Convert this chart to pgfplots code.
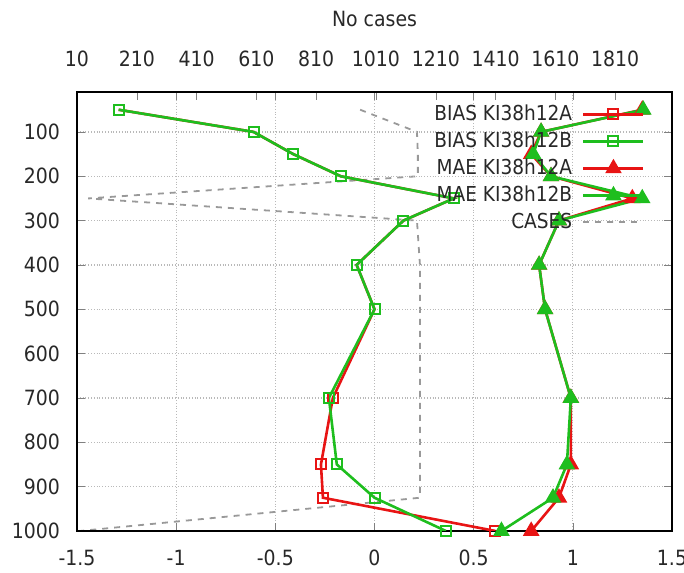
\documentclass[border=0pt]{standalone}
\usepackage{fontspec}
\setmainfont{DejaVu Sans Condensed}
\usepackage{pgfplots}
\usepackage{pgfplotstable}
\pgfplotsset{compat=1.18}
\definecolor{gpred}{RGB}{232,20,20}
\definecolor{gpgreen}{RGB}{30,190,30}
\definecolor{txt}{RGB}{40,40,40}

\pgfplotstableread{
p    biasA  biasB  maeA  maeB   cases
50   -1.29  -1.29  1.35  1.355  957
100  -0.61  -0.61  0.84  0.84   1147
150  -0.41  -0.41  0.79  0.80   1150
200  -0.17  -0.17  0.89  0.89   1150
250   0.40   0.40  1.30  1.35   47
300   0.146  0.146 0.93  0.93   1147
400  -0.09  -0.09  0.83  0.83   1157
500   0.0    0.0   0.86  0.86   1157
700  -0.21  -0.23  0.99  0.99   1157
850  -0.27  -0.19  0.99  0.97   1157
925  -0.26   0.0   0.93  0.90   1157
1000  0.61   0.36  0.79  0.64   20
}\data

\begin{document}
\begin{tikzpicture}
\pgfplotsset{
  every axis/.append style={
    scale only axis, width=297.5pt, height=219.5pt,
    ymin=10, ymax=1000, y dir=reverse,
    tick align=inside, major tick length=4pt,
    scaled ticks=false,
    /pgf/number format/1000 sep={},
    /pgf/number format/assume math mode=true,
    tick label style={font=\fontsize{10.5}{12}\selectfont, text=txt},
  },
}
\begin{axis}[name=top,
  axis x line*=top, axis y line=none,
  xmin=10, xmax=2000,
  xtick={10,210,410,610,810,1010,1210,1410,1610,1810},
  xticklabel style={yshift=9pt},
  x axis line style={gray!70!black, line width=0.6pt},
  xlabel={No cases},
  xlabel style={at={(axis description cs:0.5,1)}, anchor=south, yshift=29pt, font=\fontsize{10.5}{12}\selectfont, text=txt},
]
\addplot[gray!80, dashed, dash pattern=on 3pt off 3pt, line width=0.9pt, forget plot] table[x=cases, y=p]{\data};
\end{axis}
\begin{axis}[name=main,
  xmin=-1.5, xmax=1.5,
  xtick={-1.5,-1,-0.5,0,0.5,1,1.5},
  ytick={100,200,300,400,500,600,700,800,900,1000},
  xtick pos=both, xticklabel pos=lower,
  ytick pos=both, yticklabel pos=left,
  xticklabel style={yshift=-6pt},
  yticklabel style={xshift=-5pt},
  grid=major,
  major grid style={gray!55, densely dotted, line width=0.6pt},
  axis line style={black, line width=0.8pt},
  legend style={at={(rel axis cs:0.965,0.985)}, anchor=north east, draw=none, fill=none,
    font=\fontsize{10.3}{12}\selectfont, text=txt, row sep=2.2pt, column sep=4pt,
    nodes={inner sep=1pt}},
  legend cell align=right,
  legend plot pos=right,
  legend image code/.code={\draw[mark repeat=2,mark phase=2,#1] plot coordinates {(0pt,0pt) (15pt,0pt) (30pt,0pt)};},
]
\addlegendimage{gpred, line width=1.3pt, mark=square, mark size=2.5pt, mark options={solid, line width=1pt}}
\addlegendentry{BIAS KI38h12A}
\addlegendimage{gpgreen, line width=1.3pt, mark=square, mark size=2.5pt, mark options={solid, line width=1pt}}
\addlegendentry{BIAS KI38h12B}
\addlegendimage{gpred, line width=1.3pt, mark=triangle*, mark size=3.5pt, mark options={solid}}
\addlegendentry{MAE KI38h12A}
\addlegendimage{gpgreen, line width=1.3pt, mark=triangle*, mark size=3.5pt, mark options={solid}}
\addlegendentry{MAE KI38h12B}
\addlegendimage{gray!80, dashed, dash pattern=on 3pt off 3pt, line width=0.9pt}
\addlegendentry{CASES}

\addplot[gpred, line width=1.3pt, mark=square, mark size=2.5pt, mark options={solid, line width=1pt}, forget plot] table[x=biasA, y=p]{\data};
\addplot[gpred, line width=1.3pt, mark=triangle*, mark size=3.5pt, forget plot] table[x=maeA, y=p]{\data};
\addplot[gpgreen, line width=1.3pt, mark=square, mark size=2.5pt, mark options={solid, line width=1pt}, forget plot] table[x=biasB, y=p]{\data};
\addplot[gpgreen, line width=1.3pt, mark=triangle*, mark size=3.5pt, forget plot] table[x=maeB, y=p]{\data};
\end{axis}
\pgfresetboundingbox
\path[use as bounding box] ([xshift=-38.5pt,yshift=-21pt]main.south west) rectangle ([xshift=6pt,yshift=46pt]main.north east);
\end{tikzpicture}
\end{document}
